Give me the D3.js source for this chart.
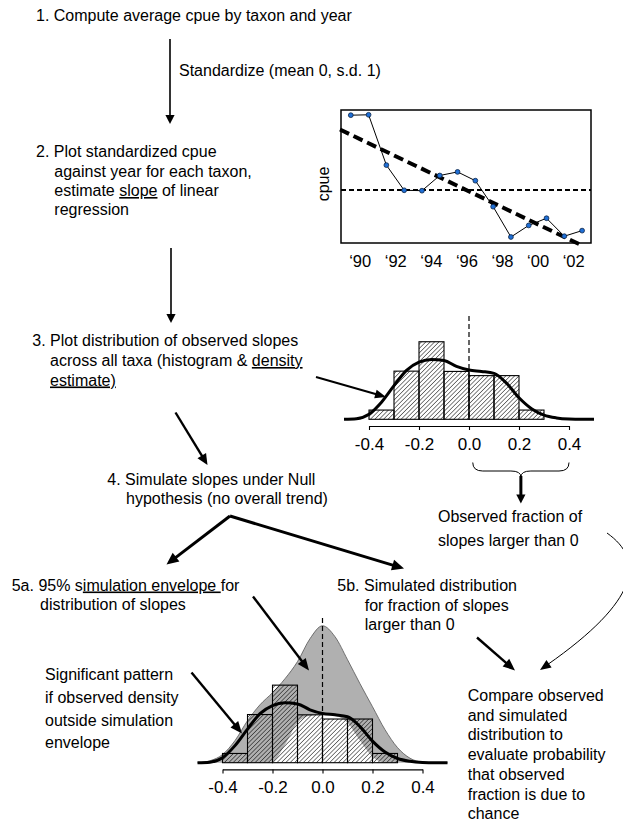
<!DOCTYPE html>
<html>
<head>
<meta charset="utf-8">
<script src="https://cdn.jsdelivr.net/npm/d3@7"></script>
<style>
  html, body { margin: 0; padding: 0; background: #fff; }
  svg { display: block; }
  text { font-family: "Liberation Sans", Arial, Helvetica, sans-serif; fill: #000; }
</style>
</head>
<body>
<svg id="chart" width="623" height="837"></svg>
<script>
// ---- Step 2 example: standardized cpue of one taxon, one value per year ----
const years = [1989, 1990, 1991, 1992, 1993, 1994, 1995, 1996, 1997, 1998, 1999, 2000, 2001, 2002];
const cpue  = [1.87, 1.88, 0.62, -0.01, -0.02, 0.36, 0.45, 0.23, -0.42, -1.18, -0.89, -0.71, -1.16, -1.02];
const yearTicks  = [1990, 1992, 1994, 1996, 1998, 2000, 2002];
const yearLabels = ["\u201890", "\u201892", "\u201894", "\u201896", "\u201898", "\u201800", "\u201802"];

// ---- Observed slopes: histogram (density per 0.1-wide bin) ----
const binStarts  = [-0.4, -0.3, -0.2, -0.1, 0.0, 0.1, 0.2];
const binWidth   = 0.1;
const binDensity = [0.33, 1.72, 2.77, 1.71, 1.56, 1.56, 0.33];

// ---- Kernel density estimate of observed slopes ----
const densGrid = [-0.5, -0.45, -0.4, -0.35, -0.3, -0.25, -0.2, -0.15, -0.1, -0.05, 0,
                  0.05, 0.1, 0.15, 0.2, 0.25, 0.3, 0.35, 0.4, 0.45, 0.5];
const kde      = [0, 0.02, 0.18, 0.61, 1.2, 1.75, 2.04, 2.14, 2.1, 1.89, 1.76,
                  1.71, 1.64, 1.29, 0.77, 0.38, 0.15, 0.05, 0.01, 0, 0];

// ---- 95% simulation envelope of the density under the null ----
const envUpper = [0, 0.07, 0.29, 0.79, 1.5, 2.07, 2.5, 3.0, 3.61, 4.43, 4.89,
                  4.5, 3.68, 2.82, 2.0, 1.18, 0.54, 0.16, 0.02, 0, 0];
const envLower = [0, 0, 0, 0, 0, 0, 0.04, 0.64, 1.43, 1.68, 1.71,
                  1.68, 1.43, 0.79, 0.21, 0, 0, 0, 0, 0, 0];

const slopeTicks = [-0.4, -0.2, 0.0, 0.2, 0.4];

const svg = d3.select("#chart");
const defs = svg.append("defs");

// diagonal hatching for histogram bars
const hatch = defs.append("pattern")
  .attr("id", "hatch")
  .attr("patternUnits", "userSpaceOnUse")
  .attr("width", 3.1).attr("height", 3.1)
  .attr("patternTransform", "rotate(45)");
hatch.append("line")
  .attr("x1", 0).attr("y1", -1).attr("x2", 0).attr("y2", 5)
  .attr("stroke", "#000").attr("stroke-width", 1);

// ---------- helpers ----------
function arrow(x1, y1, x2, y2, w, L, H) {
  const dx = x2 - x1, dy = y2 - y1, len = Math.hypot(dx, dy);
  const ux = dx / len, uy = dy / len, nx = -uy, ny = ux;
  const bx = x2 - ux * L, by = y2 - uy * L;
  svg.append("line")
    .attr("x1", x1).attr("y1", y1).attr("x2", bx + ux).attr("y2", by + uy)
    .attr("stroke", "#000").attr("stroke-width", w);
  svg.append("path")
    .attr("d", `M${x2},${y2}L${bx + nx * H},${by + ny * H}L${bx - nx * H},${by - ny * H}Z`)
    .attr("fill", "#000");
}

// lines: array of {x, y, parts:[[text, underline?], ...]}
function block(lines, size) {
  lines.forEach(l => {
    const t = svg.append("text").attr("x", l.x).attr("y", l.y)
      .attr("font-size", size || 16).attr("xml:space", "preserve");
    l.parts.forEach(p => {
      const s = t.append("tspan").text(p[0]);
      if (p[1]) s.style("text-decoration", "underline");
    });
  });
}
const P = (x, y, ...parts) => ({ x, y, parts: parts.map(p => Array.isArray(p) ? p : [p]) });

// ---------- text of the work flow ----------
block([
  P(36, 21, "1. Compute average cpue by taxon and year"),
  P(179, 75.5, "Standardize (mean 0, s.d. 1)"),
  P(36, 157, "2. Plot standardized cpue"),
  P(54.3, 176.5, "against year for each taxon,"),
  P(54.3, 196, "estimate ", ["slope", true], " of linear"),
  P(54.3, 215, "regression"),
  P(32.3, 346, "3. Plot distribution of observed slopes"),
  P(50, 366, "across all taxa (histogram & ", ["density", true]),
  P(50, 385.5, ["estimate)", true]),
  P(107.3, 485, "4. Simulate slopes under Null"),
  P(126, 504, "hypothesis (no overall trend)"),
  P(438, 522, "Observed fraction of"),
  P(438, 546, "slopes larger than 0"),
  P(11.7, 590.5, "5a. 95% s", ["imulation envelope ", true], "for"),
  P(40, 610, "distribution of slopes"),
  P(337.3, 590.5, "5b. Simulated distribution"),
  P(364.7, 610.5, "for fraction of slopes"),
  P(364.7, 630, "larger than 0"),
  P(45, 680, "Significant pattern"),
  P(45, 703, "if observed density"),
  P(45, 726, "outside simulation"),
  P(45, 748, "envelope"),
  P(467.7, 701, "Compare observed"),
  P(467.7, 720.5, "and simulated"),
  P(467.7, 740, "distribution to"),
  P(467.7, 760, "evaluate probability"),
  P(467.7, 780, "that observed"),
  P(467.7, 800, "fraction is due to"),
  P(467.7, 819, "chance")
]);

// ---------- cpue time-series panel ----------
const xYear = d3.scaleLinear().domain([1988.95, 2003]).range([341, 591]);
const yCpue = d3.scaleLinear().domain([-1.33, 2.0]).range([243, 110]);
const pts = years.map((yr, i) => ({ t: yr + 0.5, v: cpue[i] }));

svg.append("rect")
  .attr("x", xYear.range()[0]).attr("y", yCpue.range()[1])
  .attr("width", xYear.range()[1] - xYear.range()[0])
  .attr("height", yCpue.range()[0] - yCpue.range()[1])
  .attr("fill", "none").attr("stroke", "#000").attr("stroke-width", 1.5);

svg.append("line")
  .attr("x1", xYear.range()[0]).attr("x2", xYear.range()[1])
  .attr("y1", yCpue(0)).attr("y2", yCpue(0))
  .attr("stroke", "#000").attr("stroke-width", 2).attr("stroke-dasharray", "5,3");

// least-squares slope of cpue on year
const mt = d3.mean(pts, d => d.t), mv = d3.mean(pts, d => d.v);
const slope = d3.sum(pts, d => (d.t - mt) * (d.v - mv)) / d3.sum(pts, d => (d.t - mt) ** 2);
const fit = t => mv + slope * (t - mt);
const t0 = xYear.domain()[0], t1 = pts[pts.length - 1].t;
svg.append("line")
  .attr("x1", xYear(t0) - 1).attr("y1", yCpue(fit(t0)))
  .attr("x2", xYear(t1)).attr("y2", yCpue(fit(t1)))
  .attr("stroke", "#000").attr("stroke-width", 4).attr("stroke-dasharray", "10,5");

svg.append("path")
  .datum(pts)
  .attr("d", d3.line().x(d => xYear(d.t)).y(d => yCpue(d.v)))
  .attr("fill", "none").attr("stroke", "#000").attr("stroke-width", 1);

svg.append("g").selectAll("circle").data(pts).join("circle")
  .attr("cx", d => xYear(d.t)).attr("cy", d => yCpue(d.v)).attr("r", 2.4)
  .attr("fill", "#1f6fd6").attr("stroke", "#0a2346").attr("stroke-width", 0.8);

const xAxisYear = svg.append("g")
  .attr("transform", `translate(0,${yCpue.range()[0]})`)
  .call(d3.axisBottom(xYear).tickValues(yearTicks)
    .tickFormat((d, i) => yearLabels[i]).tickSize(0).tickPadding(11.8));
xAxisYear.select(".domain").remove();
xAxisYear.selectAll("text").attr("font-size", 16.5)
  .attr("font-family", "'Liberation Sans', Arial, sans-serif").attr("fill", "#000");

svg.append("text")
  .attr("transform", `translate(329,184) rotate(-90)`)
  .attr("text-anchor", "middle").attr("font-size", 16).text("cpue");

// ---------- histogram panels ----------
function histogram(x0, baseY, refTop, withEnvelope) {
  const xs = d3.scaleLinear().domain([-0.4, 0.4]).range([x0 - 100, x0 + 100]);
  const ys = d3.scaleLinear().domain([0, 1]).range([baseY, baseY - 28]);
  const g = svg.append("g");

  if (withEnvelope) {
    const env = densGrid.map((x, i) => ({ x, lo: envLower[i], hi: envUpper[i] }));
    g.append("path").datum(env)
      .attr("d", d3.area().curve(d3.curveMonotoneX)
        .x(d => xs(d.x)).y0(d => ys(d.lo)).y1(d => ys(d.hi)))
      .attr("fill", "#b0b0b0");
    g.append("path").datum(env)
      .attr("d", d3.line().curve(d3.curveMonotoneX).x(d => xs(d.x)).y(d => ys(d.hi)))
      .attr("fill", "none").attr("stroke", "#555").attr("stroke-width", 0.8);
  }

  const bins = binStarts.map((b, i) => ({ b, d: binDensity[i] }));
  if (!withEnvelope) {
    g.append("g").selectAll("rect").data(bins).join("rect")
      .attr("x", d => xs(d.b)).attr("width", d => xs(d.b + binWidth) - xs(d.b))
      .attr("y", d => ys(d.d)).attr("height", d => ys(0) - ys(d.d))
      .attr("fill", "#fff");
  }
  g.append("g").selectAll("rect").data(bins).join("rect")
    .attr("x", d => xs(d.b)).attr("width", d => xs(d.b + binWidth) - xs(d.b))
    .attr("y", d => ys(d.d)).attr("height", d => ys(0) - ys(d.d))
    .attr("fill", "url(#hatch)").attr("stroke", "#000").attr("stroke-width", 1.1);

  g.append("line")
    .attr("x1", xs(0)).attr("x2", xs(0)).attr("y1", refTop).attr("y2", ys(0))
    .attr("stroke", "#000").attr("stroke-width", 1.2).attr("stroke-dasharray", "5,3");

  g.append("path")
    .datum(densGrid.map((x, i) => ({ x, y: kde[i] })))
    .attr("d", d3.line().curve(d3.curveMonotoneX).x(d => xs(d.x)).y(d => ys(d.y)))
    .attr("fill", "none").attr("stroke", "#000").attr("stroke-width", 3)
    .attr("stroke-linejoin", "round");

  const ax = g.append("g")
    .attr("transform", `translate(0,${baseY + 6.7})`)
    .call(d3.axisBottom(xs).tickValues(slopeTicks).tickFormat(d => d.toFixed(1))
      .tickSize(4).tickSizeOuter(0).tickPadding(7.9));
  ax.selectAll("path, line").attr("stroke", "#000").attr("stroke-width", 1.1);
  ax.selectAll("text").attr("font-size", 17)
    .attr("font-family", "'Liberation Sans', Arial, sans-serif").attr("fill", "#000");
  return xs;
}

const xs1 = histogram(469, 419.3, 316, false);
histogram(322.5, 762.7, 618, true);

// brace over the positive slopes
const bl = xs1(0.015), br = xs1(0.4), bm = (bl + br) / 2, bt = 462.5, bh = 471, bc = 477;
svg.append("path")
  .attr("d", `M${bl},${bt}Q${bl},${bh} ${bl + 10},${bh}L${bm - 10},${bh}Q${bm},${bh} ${bm},${bc}` +
             `Q${bm},${bh} ${bm + 10},${bh}L${br - 10},${bh}Q${br},${bh} ${br},${bt}`)
  .attr("fill", "none").attr("stroke", "#000").attr("stroke-width", 1);

// ---------- arrows of the work flow ----------
arrow(170, 39, 170, 124, 1.6, 9, 4.6);
arrow(171, 248, 171, 323, 1.6, 9, 4.6);
arrow(316, 377, 386, 397, 2, 11, 4.5);
arrow(175.5, 412.5, 207.5, 465, 2.4, 11, 5);
arrow(230, 516, 166.5, 564.5, 3, 12, 5.5);
arrow(230, 516, 404, 568.5, 3, 12, 5.5);
arrow(bm, bc - 1, bm, 503.5, 3, 9, 4.6);
arrow(253, 596.5, 309, 670.5, 2.4, 12, 5);
arrow(191.5, 672.5, 242, 733.5, 2.4, 12, 5);
arrow(477, 637.5, 515, 670.5, 2.4, 12, 5);

// thin curved arrow from the observed fraction to the comparison
svg.append("path")
  .attr("d", "M607,533C645,560 640,600 547,665")
  .attr("fill", "none").attr("stroke", "#000").attr("stroke-width", 1);
(function () {
  const x2 = 540, y2 = 670, ux = -100 / Math.hypot(100, 70), uy = 70 / Math.hypot(100, 70);
  const L = 11, H = 4.5, bx = x2 - ux * L, by = y2 - uy * L, nx = -uy, ny = ux;
  svg.append("path")
    .attr("d", `M${x2},${y2}L${bx + nx * H},${by + ny * H}L${bx - nx * H},${by - ny * H}Z`)
    .attr("fill", "#000");
})();
</script>
</body>
</html>
